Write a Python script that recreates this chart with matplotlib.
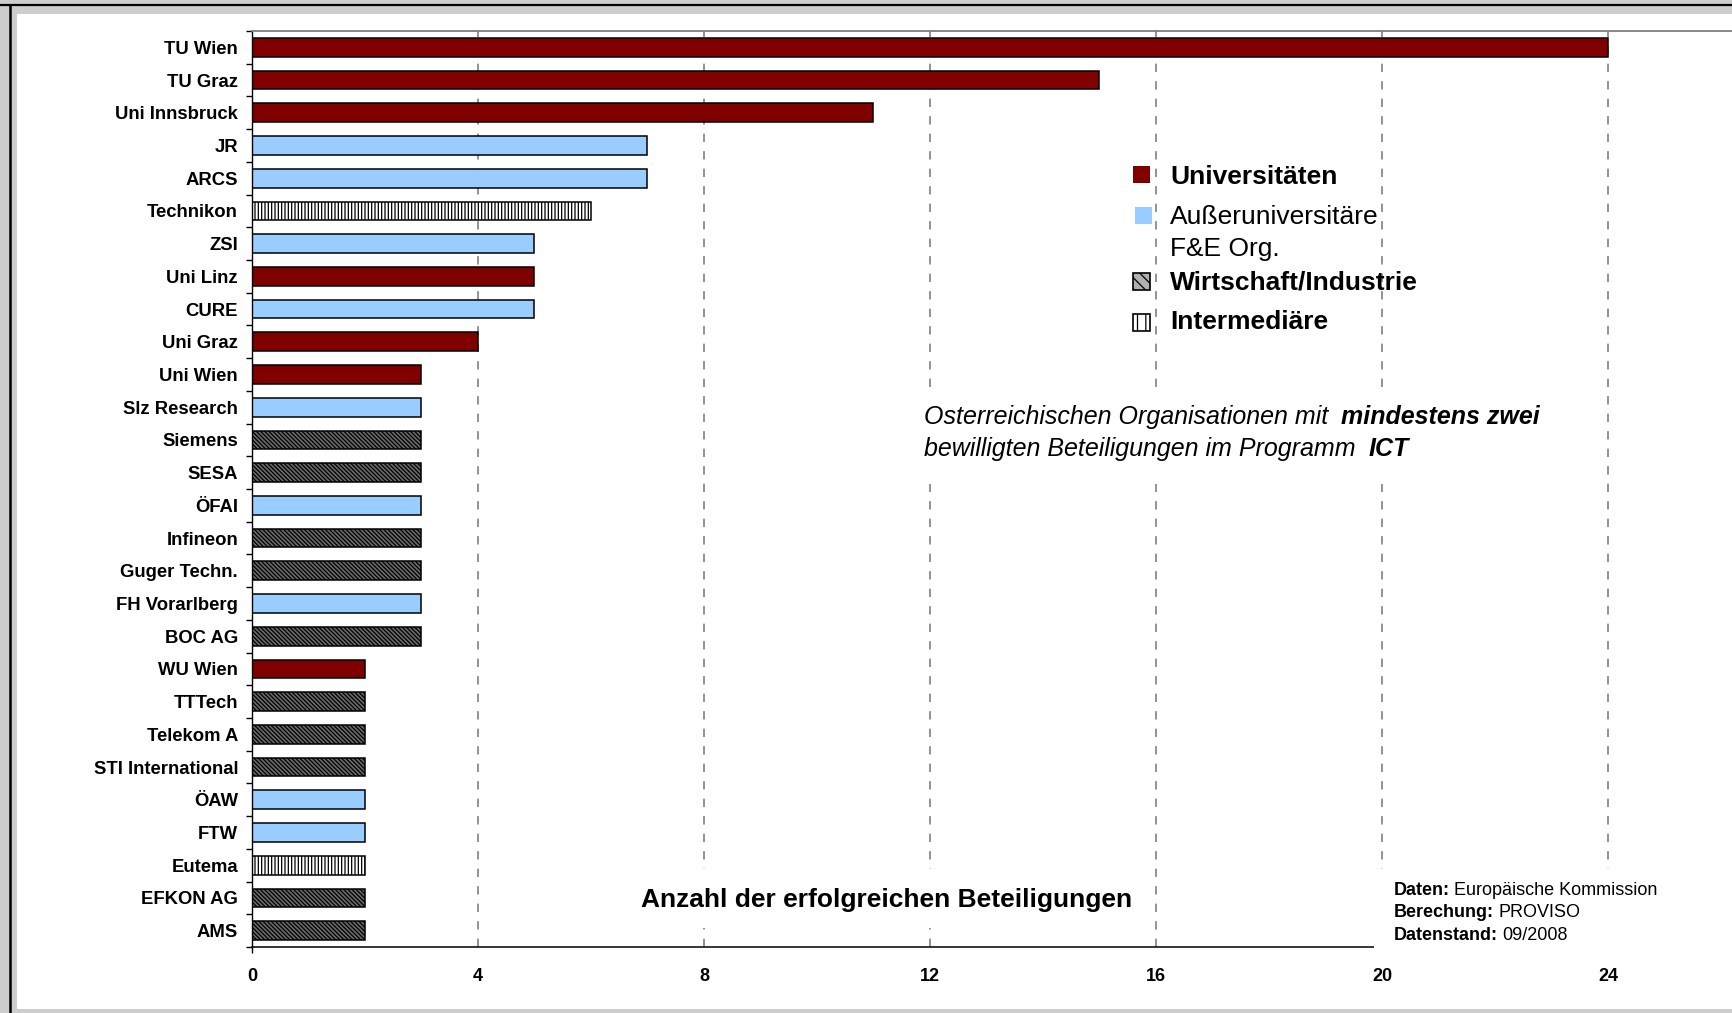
import matplotlib
matplotlib.use("Agg")
import matplotlib.pyplot as plt
from matplotlib.patches import Rectangle
from matplotlib.lines import Line2D

plt.rcParams["font.family"] = ["Liberation Sans", "DejaVu Sans"]
plt.rcParams["hatch.linewidth"] = 0.9

# --- data -------------------------------------------------------------
organisations = [
    "TU Wien", "TU Graz", "Uni Innsbruck", "JR", "ARCS", "Technikon", "ZSI",
    "Uni Linz", "CURE", "Uni Graz", "Uni Wien", "Slz Research", "Siemens",
    "SESA", "ÖFAI", "Infineon", "Guger Techn.", "FH Vorarlberg", "BOC AG",
    "WU Wien", "TTTech", "Telekom A", "STI International", "ÖAW", "FTW",
    "Eutema", "EFKON AG", "AMS",
]
beteiligungen = [24, 15, 11, 7, 7, 6, 5, 5, 5, 4, 3, 3, 3, 3, 3, 3, 3, 3, 3,
                 2, 2, 2, 2, 2, 2, 2, 2, 2]
# U = Universitäten, A = Außeruniversitäre F&E, W = Wirtschaft, I = Intermediäre
typ = ["U", "U", "U", "A", "A", "I", "A", "U", "A", "U", "U", "A", "W", "W",
       "A", "W", "W", "A", "W", "U", "W", "W", "W", "A", "A", "I", "W", "W"]
x_ticks = [0, 4, 8, 12, 16, 20, 24]

legend_labels = ["Universitäten", "Außeruniversitäre\nF&E Org.",
                 "Wirtschaft/Industrie", "Intermediäre"]
legend_types = ["U", "A", "W", "I"]

styles = {
    "U": dict(facecolor="#800000", hatch=None),
    "A": dict(facecolor="#99ccff", hatch=None),
    "W": dict(facecolor="#6a6a6a", hatch="\\" * 8),
    "I": dict(facecolor="white", hatch="|" * 5),
}

# --- figure -----------------------------------------------------------
W, H = 1733, 1013
fig = plt.figure(figsize=(W / 100, H / 100), dpi=100, facecolor="#cdcdcd")


def fx(px):
    return px / W


def fy(py):
    return 1 - py / H


# white panel with black frame lines
fig.add_artist(Rectangle((fx(17), fy(1009)), 1 - fx(17), (1009 - 14) / H,
                         transform=fig.transFigure, facecolor="white",
                         edgecolor="none", zorder=-2))
fig.add_artist(Line2D([0, 1], [fy(5), fy(5)], color="black", lw=1.6,
                      transform=fig.transFigure))
fig.add_artist(Line2D([fx(10), fx(10)], [fy(5), 0], color="black", lw=1.8,
                      transform=fig.transFigure))

unit = (1608 - 252) / 24
xmax = (W - 252) / unit
ax = fig.add_axes([fx(252), fy(947), 1 - fx(252), (947 - 31) / H])
ax.set_facecolor("none")

ypos = list(range(len(organisations)))
bars = ax.barh(ypos, beteiligungen, height=0.57, edgecolor="black",
               linewidth=1.1, zorder=2)
for bar, t in zip(bars, typ):
    bar.set_facecolor(styles[t]["facecolor"])
    if styles[t]["hatch"]:
        bar.set_hatch(styles[t]["hatch"])

ax.set_xlim(0, xmax)
ax.set_ylim(len(organisations) - 0.5, -0.5)

ax.set_xticks(x_ticks, labels=[str(v) for v in x_ticks], fontweight="bold",
              fontsize=13)
ax.set_xticks([0], minor=True)
ax.xaxis.remove_overlapping_locs = False
ax.tick_params(axis="x", which="major", length=0, pad=15)
ax.tick_params(axis="x", which="minor", length=4, width=1, direction="out")

ax.set_yticks(ypos, labels=organisations, fontweight="bold", fontsize=13.3)
ax.set_yticks([i - 0.5 for i in range(len(organisations) + 1)], minor=True)
ax.tick_params(axis="y", which="major", length=0, pad=10)
ax.tick_params(axis="y", which="minor", length=4, width=1, direction="out")

ax.grid(axis="x", which="major", color="#808080",
        linestyle=(0, (5, 5.5)), linewidth=1.2)
ax.set_axisbelow(True)

ax.spines["right"].set_visible(False)
ax.spines["top"].set_color("#7f7f7f")
ax.spines["top"].set_linewidth(1.3)
ax.spines["bottom"].set_linewidth(1.1)
ax.spines["left"].set_linewidth(1.0)

# --- white boxes that hide the grid behind the notes -------------------
for (x0, y0, x1, y1) in [(912, 394, 1560, 484), (630, 869, 1145, 928),
                         (1374, 869, W, 952)]:
    fig.add_artist(Rectangle((fx(x0), fy(y1)), (x1 - x0) / W, (y1 - y0) / H,
                             transform=fig.transFigure, facecolor="white",
                             edgecolor="none", zorder=1))

# --- legend -------------------------------------------------------------
legend_boxes = [(1133, 166), (1135, 207), (1133, 273), (1133, 314)]
legend_text_y = [177, 233, 283, 322]
for t, lab, (bx, by), ty in zip(legend_types, legend_labels, legend_boxes,
                                legend_text_y):
    st = styles[t]
    edge = "none" if st["hatch"] is None else "black"
    hatch = None
    face = st["facecolor"]
    if t == "W":
        hatch = "\\\\\\"
        face = "#b0b0b0"
    elif t == "I":
        hatch = "||"
    fig.add_artist(Rectangle((fx(bx), fy(by + 17)), 17 / W, 17 / H,
                             transform=fig.transFigure, facecolor=face,
                             edgecolor=edge, hatch=hatch, lw=1.2, zorder=2))
    weight = "normal" if t == "A" else "bold"
    fig.text(fx(1170), fy(ty), lab, fontsize=19, fontweight=weight,
             va="center", ha="left", linespacing=1.4, zorder=3)

# --- notes --------------------------------------------------------------
renderer = fig.canvas.get_renderer()
note_lines = [("Osterreichischen Organisationen mit", "mindestens zwei", 417),
              ("bewilligten Beteiligungen im Programm", "ICT", 449)]
for plain, strong, ly in note_lines:
    t1 = fig.text(fx(924), fy(ly), plain, fontsize=18, style="italic",
                  va="center", ha="left", zorder=3)
    bb = t1.get_window_extent(renderer)
    fig.text((bb.x1 + 13) / W, fy(ly), strong, fontsize=18,
             style="italic", fontweight="bold", va="center", ha="left",
             zorder=3)

fig.text(fx(887), fy(900), "Anzahl der erfolgreichen Beteiligungen",
         fontsize=19, fontweight="bold", ha="center", va="center", zorder=3)

source_lines = [("Daten:", "Europäische Kommission", 890),
                ("Berechung:", "PROVISO", 912),
                ("Datenstand:", "09/2008", 935)]
for key, val, ly in source_lines:
    t1 = fig.text(fx(1394), fy(ly), key, fontsize=13, fontweight="bold",
                  va="center", ha="left", zorder=3)
    bb = t1.get_window_extent(renderer)
    fig.text((bb.x1 + 4) / W, fy(ly), val, fontsize=13, va="center",
             ha="left", zorder=3)

fig.savefig("out.png", dpi=100, facecolor=fig.get_facecolor())
